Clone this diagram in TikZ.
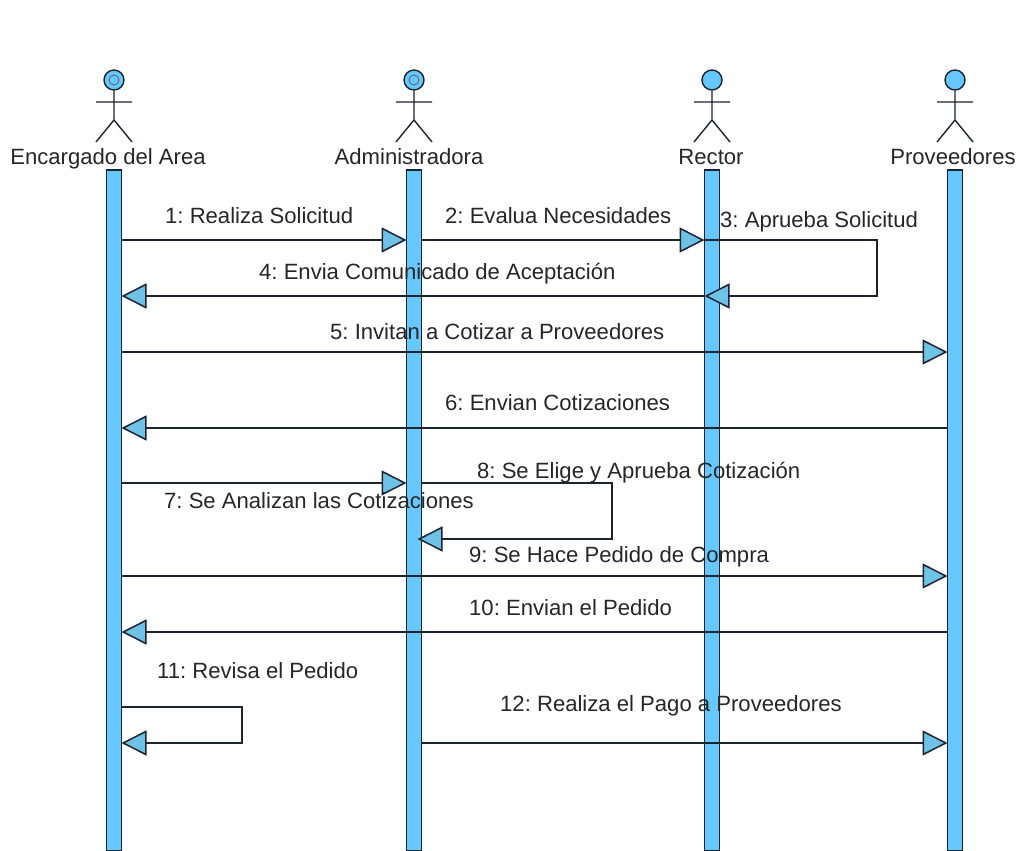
\documentclass[tikz,border=0pt]{standalone}
\usepackage{fontspec}
\setmainfont{Liberation Sans}
\usetikzlibrary{arrows.meta}
\definecolor{lifefill}{HTML}{66C8FF}
\definecolor{tipfill}{HTML}{6EC2E8}
\definecolor{ink}{HTML}{1C2430}
\tikzset{
  x=1pt,y=-1pt,
  lifeline/.style={draw=ink,fill=lifefill,line width=1.5pt,minimum width=15pt,minimum height=681pt,inner sep=0pt,outer sep=0pt,anchor=north},
  head/.style={circle,draw=ink,fill=lifefill,line width=1.4pt,minimum size=20pt,inner sep=0pt},
  limb/.style={draw=ink,line width=1.4pt},
  msg/.style={draw=ink,line width=1.5pt,-{Triangle[length=25pt,width=25pt,fill=tipfill,line width=1.5pt]}},
  lbl/.style={font=\fontsize{22.1}{24}\selectfont,text=black!85,anchor=base west,inner sep=0pt},
  actorname/.style={font=\fontsize{22.1}{24}\selectfont,text=black!85,anchor=base,inner sep=0pt},
}
\newcommand{\stick}[2]{%
  \node[head] (#1) at (#2,80) {};
  \coordinate (#1h) at (#2,120);
  \coordinate (#1a) at (#2-18,102);
  \coordinate (#1b) at (#2+18,102);
  \coordinate (#1l) at (#2-18,142);
  \coordinate (#1r) at (#2+18,142);
  \path[limb] (#1.south) -- (#1h) (#1a) -- (#1b) (#1l) -- (#1h) -- (#1r);
}
\frenchspacing
\begin{document}
\begin{tikzpicture}
\useasboundingbox[fill=white] (0,0) rectangle (1018,851);
% lifelines
\node[lifeline] (lA) at (114,170) {};
\node[lifeline] (lB) at (414,170) {};
\node[lifeline] (lC) at (712,170) {};
\node[lifeline] (lD) at (955,170) {};
% actors
\stick{aA}{114}
\stick{aB}{414}
\stick{aC}{712}
\stick{aD}{955}
\node[circle,draw=ink!70,line width=0.9pt,minimum size=10pt,inner sep=0pt] (iA) at (aA) {};
\node[circle,draw=ink!70,line width=0.9pt,minimum size=10pt,inner sep=0pt] (iB) at (aB) {};
\node[actorname] (nA) at (108,164.5) {Encargado del Area};
\node[actorname] (nB) at (409,164.5) {Administradora};
\node[actorname] (nC) at (711,164.5) {Rector};
\node[actorname] (nD) at (953,164.5) {Proveedores};
% message heights
\foreach \n/\y in {a/240,b/296,c/352,d/428,e/483,f/539,g/576,h/632,i/707,j/743}{\coordinate (y\n) at (0,\y);}
\coordinate (c3) at (877,240); \coordinate (c3b) at (877,296);
\coordinate (c8) at (612,483); \coordinate (c8b) at (612,539);
\coordinate (c11) at (242,707); \coordinate (c11b) at (242,743);
% messages
\draw[msg] (lA.east |- ya) -- (lB.west |- ya);
\draw[msg] (lB.east |- ya) -- (lC.west |- ya);
\draw[msg] (lC.west |- ya) -- (c3) -- (c3b) -- (lC.west |- yb);
\draw[msg] (lC.west |- yb) -- (lA.east |- yb);
\draw[msg] (lA.east |- yc) -- (lD.west |- yc);
\draw[msg] (lD.west |- yd) -- (lA.east |- yd);
\draw[msg] (lA.east |- ye) -- (lB.west |- ye);
\draw[msg,shorten >=-4pt] (lB.east |- ye) -- (c8) -- (c8b) -- (lB.east |- yf);
\draw[msg] (lA.east |- yg) -- (lD.west |- yg);
\draw[msg] (lD.west |- yh) -- (lA.east |- yh);
\draw[msg] (lA.east |- yi) -- (c11) -- (c11b) -- (lA.east |- yj);
\draw[msg] (lB.east |- yj) -- (lD.west |- yj);
% labels
\node[lbl] (m1) at (165,223) {1: Realiza Solicitud};
\node[lbl] (m2) at (445,223) {2: Evalua Necesidades};
\node[lbl] (m3) at (720,227) {3: Aprueba Solicitud};
\node[lbl] (m4) at (259,279) {4: Envia Comunicado de Aceptación};
\node[lbl] (m5) at (330,339) {5: Invitan a Cotizar a Proveedores};
\node[lbl] (m6) at (445,410) {6: Envian Cotizaciones};
\node[lbl] (m7) at (164,508) {7: Se Analizan las Cotizaciones};
\node[lbl] (m8) at (477,478) {8: Se Elige y Aprueba Cotización};
\node[lbl] (m9) at (469,562) {9: Se Hace Pedido de Compra};
\node[lbl] (m10) at (469,615) {10: Envian el Pedido};
\node[lbl] (m11) at (157,678) {11: Revisa el Pedido};
\node[lbl] (m12) at (500,711) {12: Realiza el Pago a Proveedores};
\end{tikzpicture}
\end{document}
